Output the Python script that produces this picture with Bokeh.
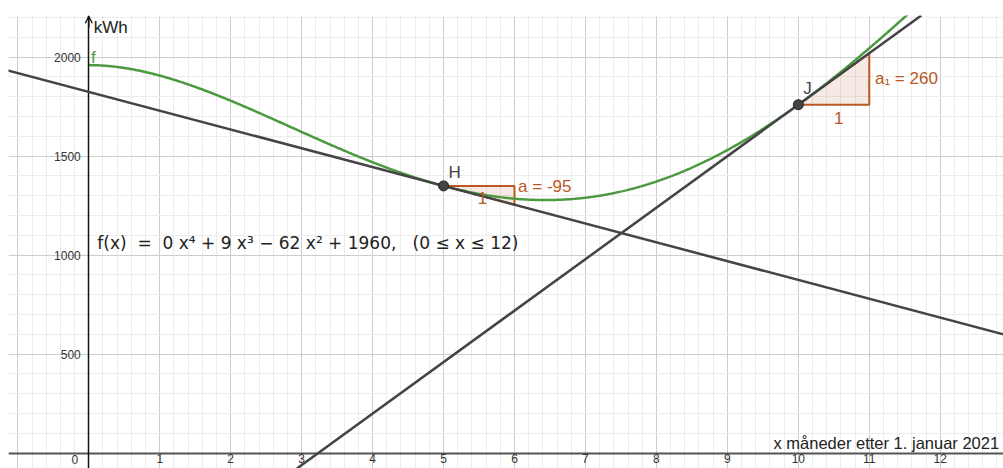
import numpy as np
from bokeh.plotting import figure
from bokeh.models import (LinearAxis, SingleIntervalTicker, FixedTicker, Slope,
                          Arrow, OpenHead, Label)
from bokeh.embed import file_html
from bokeh.resources import INLINE

# ---- data ----
coeffs = [-0.296, 8.92, -61.6, 0.0, 1960.0]       # f(x) = a x^4 + b x^3 + c x^2 + d x + e
domain = [0, 12]
point_names = ["H", "J"]
point_x = [5, 10]
slopes = [-95, 260]
slope_labels = ["a = -95", "a\u2081 = 260"]
x_ticks = list(range(1, 13))
y_ticks = [500, 1000, 1500, 2000]
formula = "f(x)\u00a0 =\u00a0 0 x\u2074 + 9 x\u00b3 \u2212 62 x\u00b2 + 1960,\u00a0\u00a0 (0 \u2264 x \u2264 12)"
y_title = "kWh"
x_title = "x m\u00e5neder etter 1. januar 2021"

GREEN = "#4C9A40"
DARK = "#444444"
BROWN = "#B9581F"
FONT = "Liberation Sans"

def f(x):
    return np.polyval(coeffs, x)

p = figure(width=1003, height=468, x_range=(-1.1318, 12.892), y_range=(-77.3, 2210.6),
           output_backend="svg", toolbar_location=None,
           x_axis_location=None, y_axis_location=None,
           min_border_left=8, min_border_right=0, min_border_top=15, min_border_bottom=0,
           outline_line_color=None, background_fill_color="white")

# grids
p.xgrid.ticker = SingleIntervalTicker(interval=1, num_minor_ticks=5)
p.ygrid.ticker = SingleIntervalTicker(interval=500, num_minor_ticks=5)
for g in (p.xgrid, p.ygrid):
    g.grid_line_color = "#CDCDCD"
    g.grid_line_width = 1
    g.minor_grid_line_color = "#ECECEC"
    g.minor_grid_line_width = 1

# axes
xaxis = LinearAxis(fixed_location=0, ticker=FixedTicker(ticks=x_ticks))
yaxis = LinearAxis(fixed_location=0, ticker=FixedTicker(ticks=y_ticks))
for ax in (xaxis, yaxis):
    ax.major_tick_in = 0
    ax.major_tick_out = 0
    ax.minor_tick_in = 0
    ax.minor_tick_out = 0
    ax.major_label_text_font = FONT
    ax.major_label_text_font_size = "12px"
    ax.major_label_text_color = "#333333"
xaxis.axis_line_color = "#555555"
xaxis.axis_line_width = 2
xaxis.major_label_standoff = 1
yaxis.axis_line_color = "#111111"
yaxis.axis_line_width = 1.5
yaxis.major_label_standoff = 8
p.add_layout(xaxis, "below")
p.add_layout(yaxis, "left")

p.add_layout(Label(x=0, y=0, x_offset=-14, y_offset=-2, text="0", text_align="center",
                   text_baseline="top", text_font=FONT, text_font_size="12px",
                   text_color="#333333"))

# arrow on y axis
p.add_layout(Arrow(end=OpenHead(size=7, line_width=1.3, line_color="#111111"),
                   x_start=0, y_start=2150, x_end=0, y_end=2207,
                   line_width=1.5, line_color="#111111"))

# slope triangles
for x0, s in zip(point_x, slopes):
    y0 = f(x0)
    p.patch([x0, x0 + 1, x0 + 1], [y0, y0, y0 + s], fill_color=BROWN, fill_alpha=0.12,
            line_color=BROWN, line_width=2)

# function
xs = np.linspace(domain[0], domain[1], 800)
p.line(xs, f(xs), line_color=GREEN, line_width=2.5)

# tangents
for x0, s in zip(point_x, slopes):
    y0 = f(x0)
    p.add_layout(Slope(gradient=s, y_intercept=y0 - s * x0, line_color=DARK, line_width=2.5))

# points
py = [f(x) for x in point_x]
p.scatter(point_x, py, size=10, fill_color=DARK, line_color="#222222", line_width=1, level="overlay")

# labels
def lab(x, y, text, color, size="16px", align="left", baseline="middle", font=FONT):
    p.add_layout(Label(x=x, y=y, text=text, text_color=color, text_font=font,
                       text_font_size=size, text_align=align, text_baseline=baseline))

for name, x0, y0 in zip(point_names, point_x, py):
    lab(x0 + 0.07, y0 + 70 if name == "H" else y0 + 80, name, DARK, size="17px")

# "1" labels and slope labels
lab(point_x[0] + 0.55, py[0] - 62, "1", BROWN, size="17px", align="center")
lab(point_x[0] + 1.05, py[0] - 5, slope_labels[0], BROWN, size="17px")
lab(point_x[1] + 0.57, py[1] - 65, "1", BROWN, size="17px", align="center")
lab(point_x[1] + 1.08, py[1] + 130, slope_labels[1], BROWN, size="17px")

lab(0.03, 1997, "f", GREEN, size="17px")
lab(0.12, 1064, formula, "#222222", size="17px", font="DejaVu Sans")
lab(0.07, 2150, y_title, "#222222", size="17px")
lab(9.65, 49, x_title, "#222222", size="16.5px")

open("out.html", "w").write(file_html(p, INLINE))
